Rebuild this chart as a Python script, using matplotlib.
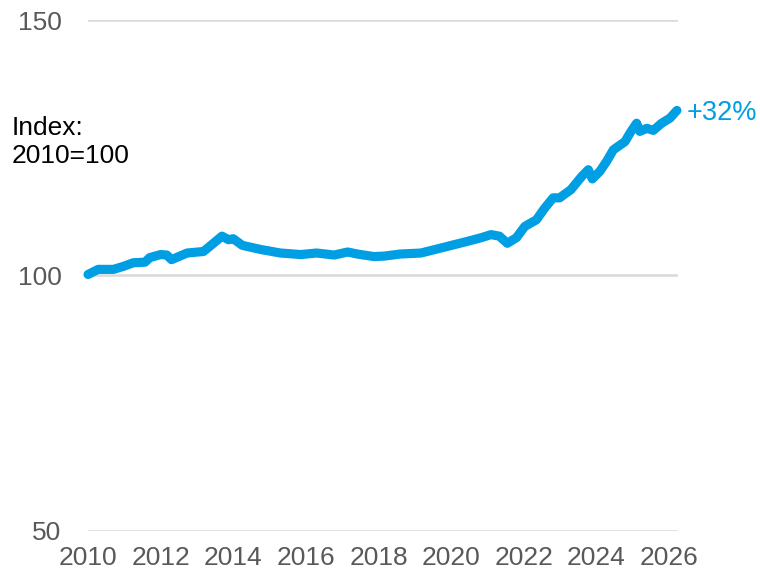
import matplotlib
matplotlib.use("Agg")
import matplotlib.pyplot as plt

plt.rcParams['font.family'] = ['Liberation Sans', 'DejaVu Sans']

# Data (index, 2010 = 100)
years = [2010.0, 2010.28, 2010.7, 2010.98, 2011.25, 2011.57, 2011.7, 2012.0, 2012.17, 2012.3,
         2012.73, 2013.18, 2013.42, 2013.69, 2013.87, 2014.0, 2014.25, 2014.75, 2015.3, 2015.86,
         2016.3, 2016.78, 2017.15, 2017.42, 2017.88, 2018.16, 2018.6, 2019.17, 2019.9, 2020.46,
         2020.83, 2021.1, 2021.33, 2021.55, 2021.8, 2022.03, 2022.35, 2022.58, 2022.81, 2022.99,
         2023.3, 2023.6, 2023.78, 2023.89, 2024.1, 2024.28, 2024.47, 2024.79, 2024.93, 2025.11,
         2025.2, 2025.39, 2025.57, 2025.8, 2026.03, 2026.22]
index_values = [100.2, 101.2, 101.2, 101.8, 102.5, 102.6, 103.5, 104.1, 104.0, 103.1,
                104.4, 104.7, 106.1, 107.7, 107.0, 107.2, 105.9, 105.1, 104.4, 104.1,
                104.4, 104.0, 104.6, 104.2, 103.7, 103.8, 104.2, 104.4, 105.7, 106.7,
                107.4, 108.0, 107.7, 106.3, 107.4, 109.6, 110.9, 113.2, 115.2, 115.2,
                116.8, 119.4, 120.7, 118.9, 120.4, 122.3, 124.6, 126.2, 127.9, 129.8,
                128.2, 128.8, 128.4, 129.8, 130.8, 132.3]
x_ticks = [2010, 2012, 2014, 2016, 2018, 2020, 2022, 2024, 2026]
y_ticks = [50, 100, 150]
end_label = "+32%"
unit_label = "Index:\n2010=100"

BLUE = "#009FE3"
GREY = "#595959"

fig = plt.figure(figsize=(7.6, 5.75), dpi=100)
ax = fig.add_axes([88/760, 1 - 531/575, (678-88)/760, (531-20)/575])

ax.plot(years, index_values, color=BLUE, lw=6.6, solid_capstyle='round',
        solid_joinstyle='round', zorder=3, clip_on=False)

ax.set_xlim(2010, 2026.25)
ax.set_ylim(50, 150)
ax.set_xticks(x_ticks)
ax.set_xticklabels([str(t) for t in x_ticks])
ax.set_yticks(y_ticks)
ax.set_yticklabels([str(v) for v in y_ticks])
ax.grid(axis='y', color='#D9D9D9', lw=1.8, zorder=1)
ax.grid(axis='x', visible=False)
for s in ax.spines.values():
    s.set_visible(False)
ax.tick_params(axis='both', length=0, labelsize=19, colors=GREY)
ax.tick_params(axis='y', pad=19)
ax.tick_params(axis='x', pad=11)

ax.annotate(end_label, xy=(years[-1], index_values[-1]), xytext=(7, -2),
            textcoords='offset points', color=BLUE, fontsize=19.5,
            va='center', ha='left', annotation_clip=False)

fig.text(12/760, 1 - 116/575, unit_label, color='black', fontsize=19,
         ha='left', va='top', linespacing=1.2)

fig.savefig("out.png", dpi=100)
